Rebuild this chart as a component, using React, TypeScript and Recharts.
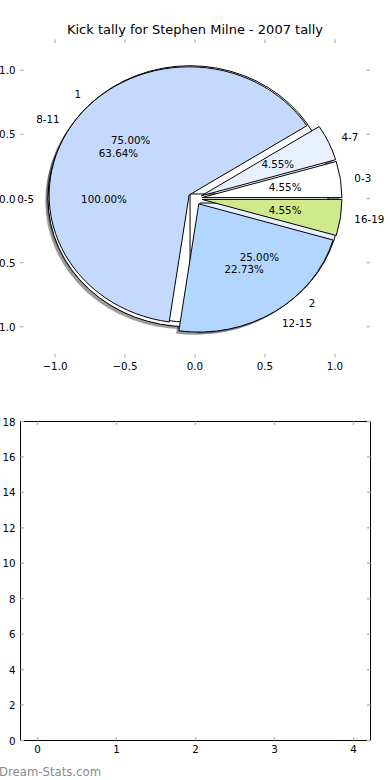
import React from 'react';
import { PieChart, Pie, Cell, ScatterChart, Scatter, XAxis, YAxis } from 'recharts';

// ---------- data ----------
const ageGroups = ['0-3', '4-7', '8-11', '12-15', '16-19'];
const ageKicks = [1, 1, 14, 5, 1];
const splitGroups = ['1', '2'];
const splitKicks = [3, 1];
const wholeGroups = ['0-5'];
const wholeKicks = [1];

const pieAxisTicks = [-1, -0.5, 0, 0.5, 1];
const emptyXTicks = [0, 1, 2, 3, 4];
const emptyYTicks = [0, 2, 4, 6, 8, 10, 12, 14, 16, 18];

const titleText = 'Kick tally for Stephen Milne - 2007 tally';
const footerText = 'Dream-Stats.com';

// ---------- styles ----------
const ageColors = ['#ffffff', '#e8f0ff', '#c5d9ff', '#b3d6ff', '#cfea8a'];
const splitColors = ['#ffffff', '#e8f0ff'];
const wholeColors = ['#ffffff'];

const FONT = '"DejaVu Sans", sans-serif';
const FS = 10.3;
const TICK_COLOR = '#b5b5b5';
const TICK_LEN = 3.5;
const TICK_W = 1.3;

const W = 390;
const PLOT_L = 20;
const PLOT_R = 370;
const PIE_H = 380;
const PIE_T = 39.5;
const PIE_B = 357.5;
const PIE_XDOM: [number, number] = [-1.25, 1.25];
const PIE_YDOM: [number, number] = [-1.24, 1.24];
const RX = (PLOT_R - PLOT_L) / (PIE_XDOM[1] - PIE_XDOM[0]);
const RY = (PIE_B - PIE_T) / (PIE_YDOM[1] - PIE_YDOM[0]);
const CX = PLOT_L - PIE_XDOM[0] * RX;
const CY = PIE_T + PIE_YDOM[1] * RY;
const RY_RATIO = RY / RX;
const EXPLODE = 0.05;
const SHADOW = 0.02;
const LABEL_DIST = 1.1;
const PCT_DIST = 0.6;

const BOT_TOP = 380;
const BOT_H = 400;
const BOT_L = 20.5;
const BOT_R = 370.5;
const BOT_T = 41.5;   // plot top inside lower chart
const BOT_B = 360.5;  // plot bottom inside lower chart
const BOT_XDOM: [number, number] = [-0.215, 4.215];
const BOT_YDOM: [number, number] = [0, 18];

const AX = 1; // thickness reserved for each axis

const RAD = Math.PI / 180;

const toData = (names: string[], values: number[]) =>
  names.map((name, i) => ({ name, value: values[i] }));

const wholeData = toData(wholeGroups, wholeKicks);
const splitData = toData(splitGroups, splitKicks);
const ageData = toData(ageGroups, ageKicks);

const layers = [
  { id: 'whole', data: wholeData, colors: wholeColors },
  { id: 'split', data: splitData, colors: splitColors },
  { id: 'age', data: ageData, colors: ageColors },
];

function darken(hex: string) {
  const h = hex.replace('#', '');
  const r = Math.round(parseInt(h.slice(0, 2), 16) * 0.3);
  const g = Math.round(parseInt(h.slice(2, 4), 16) * 0.3);
  const b = Math.round(parseInt(h.slice(4, 6), 16) * 0.3);
  return `rgb(${r},${g},${b})`;
}

function wedgePath(
  cx: number, cy: number, rx: number, ry: number,
  a0: number, a1: number, mid: number, dx: number, dy: number
) {
  const ox = cx + EXPLODE * rx * Math.cos(mid * RAD) + dx;
  const oy = cy - EXPLODE * ry * Math.sin(mid * RAD) + dy;
  const pt = (a: number) => [ox + rx * Math.cos(a * RAD), oy - ry * Math.sin(a * RAD)];
  const sweep = a1 - a0;
  if (Math.abs(sweep) >= 359.999) {
    const [x0, y0] = pt(a0);
    const [xm, ym] = pt(a0 + 180);
    return `M ${x0} ${y0} A ${rx} ${ry} 0 1 0 ${xm} ${ym} A ${rx} ${ry} 0 1 0 ${x0} ${y0} Z`;
  }
  const [x0, y0] = pt(a0);
  const [x1, y1] = pt(a1);
  const large = Math.abs(sweep) > 180 ? 1 : 0;
  return `M ${ox} ${oy} L ${x0} ${y0} A ${rx} ${ry} 0 ${large} 0 ${x1} ${y1} Z`;
}

const shadowShape = (props: any) => {
  const { cx, cy, startAngle, endAngle, midAngle, outerRadius, fill } = props;
  const rx = outerRadius;
  const ry = outerRadius * RY_RATIO;
  const d = wedgePath(cx, cy, rx, ry, startAngle, endAngle, midAngle, -SHADOW * rx, SHADOW * ry);
  return <path d={d} fill={darken(fill || '#ffffff')} fillOpacity={0.55} stroke="none" />;
};

const wedgeShape = (props: any) => {
  const { cx, cy, startAngle, endAngle, midAngle, outerRadius, fill } = props;
  const rx = outerRadius;
  const ry = outerRadius * RY_RATIO;
  const d = wedgePath(cx, cy, rx, ry, startAngle, endAngle, midAngle, 0, 0);
  return <path d={d} fill={fill} stroke="#000" strokeWidth={1} strokeLinejoin="miter" />;
};

const emptyShape = () => <g />;

const pieLabel = (props: any) => {
  const { cx, cy, midAngle, outerRadius, percent, name } = props;
  const rx = outerRadius;
  const ry = outerRadius * RY_RATIO;
  const c = Math.cos(midAngle * RAD);
  const s = Math.sin(midAngle * RAD);
  const ox = cx + EXPLODE * rx * c;
  const oy = cy - EXPLODE * ry * s;
  const lx = ox + LABEL_DIST * rx * c;
  const ly = oy - LABEL_DIST * ry * s;
  const px = ox + PCT_DIST * rx * c;
  const py = oy - PCT_DIST * ry * s;
  return (
    <g>
      <text x={lx} y={ly} textAnchor={c > 0 ? 'start' : 'end'} dominantBaseline="central"
        fontSize={FS} fontFamily={FONT} fill="#000" stroke="none">{name}</text>
      <text x={px} y={py} textAnchor="middle" dominantBaseline="central"
        fontSize={FS} fontFamily={FONT} fill="#000" stroke="none">{(percent * 100).toFixed(2) + '%'}</text>
    </g>
  );
};

type Side = 'top' | 'bottom' | 'left' | 'right';
const makeTick = (side: Side, fmt: ((v: number) => string) | null, gap: number) => (props: any) => {
  const { x, y, payload } = props;
  const v = payload.value;
  let x2 = x;
  let y2 = y;
  if (side === 'bottom') y2 = y - TICK_LEN;
  else if (side === 'top') y2 = y + TICK_LEN;
  else if (side === 'left') x2 = x + TICK_LEN;
  else x2 = x - TICK_LEN;
  let label = null;
  if (fmt) {
    label = side === 'bottom'
      ? <text x={x} y={y + gap} textAnchor="middle" dominantBaseline="central" fontSize={FS} fontFamily={FONT} fill="#000" stroke="none">{fmt(v)}</text>
      : <text x={x - gap} y={y} textAnchor="end" dominantBaseline="central" fontSize={FS} fontFamily={FONT} fill="#000" stroke="none">{fmt(v)}</text>;
  }
  return (
    <g>
      <line x1={x} y1={y} x2={x2} y2={y2} stroke={TICK_COLOR} strokeWidth={TICK_W} />
      {label}
    </g>
  );
};

const fmtPie = (v: number) => (v < 0 ? '\u2212' : '') + Math.abs(v).toFixed(1);
const fmtInt = (v: number) => String(v);

const axisCommon = {
  tickLine: false,
  tickSize: 0,
  tickMargin: 0,
  interval: 0 as const,
  allowDataOverflow: true,
  type: 'number' as const,
};

const frameLine = { stroke: '#000', strokeWidth: 1, strokeOpacity: 1 };

export default function App() {
  return (
    <div style={{ position: 'absolute', left: 0, top: 0, width: W, height: 780, background: '#fff', overflow: 'hidden', fontFamily: FONT }}>
      {/* title */}
      <div style={{ position: 'absolute', left: 0, top: 22, width: W, textAlign: 'center', fontSize: 13, lineHeight: '16px', color: '#000' }}>
        {titleText}
      </div>

      {/* pie axes (ticks only) */}
      <div style={{ position: 'absolute', left: 0, top: 0 }}>
        <ScatterChart width={W} height={PIE_H}
          margin={{ top: PIE_T - AX, right: W - PLOT_R - AX, bottom: PIE_H - PIE_B - AX, left: PLOT_L - AX }}>
          <XAxis xAxisId={0} dataKey="x" orientation="bottom" height={AX} domain={PIE_XDOM} ticks={pieAxisTicks}
            axisLine={false} tick={makeTick('bottom', fmtPie, 8)} {...axisCommon} />
          <XAxis xAxisId="t" dataKey="x" orientation="top" height={AX} domain={PIE_XDOM} ticks={pieAxisTicks}
            axisLine={false} tick={makeTick('top', null, 0)} {...axisCommon} />
          <YAxis yAxisId={0} dataKey="y" orientation="left" width={AX} domain={PIE_YDOM} ticks={pieAxisTicks}
            axisLine={false} tick={makeTick('left', fmtPie, 4.5)} {...axisCommon} />
          <YAxis yAxisId="r" dataKey="y" orientation="right" width={AX} domain={PIE_YDOM} ticks={pieAxisTicks}
            axisLine={false} tick={makeTick('right', null, 0)} {...axisCommon} />
          <Scatter data={[]} isAnimationActive={false} />
        </ScatterChart>
      </div>

      {/* pies */}
      <div style={{ position: 'absolute', left: 0, top: 0 }}>
        <PieChart width={W} height={PIE_H} margin={{ top: 0, right: 0, bottom: 0, left: 0 }}>
          {layers.map((l) => (
            <Pie key={'shadow-' + l.id} data={l.data} dataKey="value" nameKey="name" cx={CX} cy={CY}
              innerRadius={0} outerRadius={RX} startAngle={0} endAngle={360} isAnimationActive={false}
              shape={shadowShape} activeShape={shadowShape} inactiveShape={shadowShape}
              label={false} labelLine={false} stroke="none">
              {l.colors.map((c, i) => <Cell key={i} fill={c} />)}
            </Pie>
          ))}
          {layers.map((l) => (
            <Pie key={'wedge-' + l.id} data={l.data} dataKey="value" nameKey="name" cx={CX} cy={CY}
              innerRadius={0} outerRadius={RX} startAngle={0} endAngle={360} isAnimationActive={false}
              shape={wedgeShape} activeShape={wedgeShape} inactiveShape={wedgeShape}
              label={false} labelLine={false} stroke="#000">
              {l.colors.map((c, i) => <Cell key={i} fill={c} />)}
            </Pie>
          ))}
          {layers.map((l) => (
            <Pie key={'label-' + l.id} data={l.data} dataKey="value" nameKey="name" cx={CX} cy={CY}
              innerRadius={0} outerRadius={RX} startAngle={0} endAngle={360} isAnimationActive={false}
              shape={emptyShape} activeShape={emptyShape} inactiveShape={emptyShape}
              fill="none" stroke="none" label={pieLabel} labelLine={false} />
          ))}
        </PieChart>
      </div>

      {/* empty lower axes */}
      <div style={{ position: 'absolute', left: 0, top: BOT_TOP }}>
        <ScatterChart width={W} height={BOT_H}
          margin={{ top: BOT_T - AX, right: W - BOT_R - AX, bottom: BOT_H - BOT_B - AX, left: BOT_L - AX }}>
          <XAxis xAxisId={0} dataKey="x" orientation="bottom" height={AX} domain={BOT_XDOM} ticks={emptyXTicks}
            stroke="#000" axisLine={frameLine} tick={makeTick('bottom', fmtInt, 8.5)} {...axisCommon} />
          <XAxis xAxisId="t" dataKey="x" orientation="top" height={AX} domain={BOT_XDOM} ticks={emptyXTicks}
            stroke="#000" axisLine={frameLine} tick={makeTick('top', null, 0)} {...axisCommon} />
          <YAxis yAxisId={0} dataKey="y" orientation="left" width={AX} domain={BOT_YDOM} ticks={emptyYTicks}
            stroke="#000" axisLine={frameLine} tick={makeTick('left', fmtInt, 5)} {...axisCommon} />
          <YAxis yAxisId="r" dataKey="y" orientation="right" width={AX} domain={BOT_YDOM} ticks={emptyYTicks}
            stroke="#000" axisLine={frameLine} tick={makeTick('right', null, 0)} {...axisCommon} />
          <Scatter data={[]} isAnimationActive={false} />
        </ScatterChart>
      </div>

      {/* footer */}
      <div style={{ position: 'absolute', left: -1, top: 764, fontSize: 11.7, lineHeight: '16px', color: '#888' }}>
        {footerText}
      </div>
    </div>
  );
}
